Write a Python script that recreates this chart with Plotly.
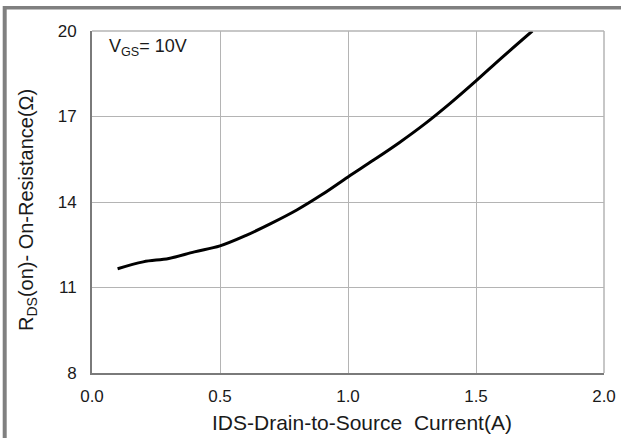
import plotly.graph_objects as go

current_a = [0.1, 0.2, 0.3, 0.4, 0.5, 0.6, 0.7, 0.8, 0.9, 1.0, 1.1, 1.2, 1.3, 1.4, 1.5, 1.6, 1.72]
rds_on = [11.66, 11.9, 12.02, 12.25, 12.46, 12.82, 13.25, 13.72, 14.27, 14.88, 15.47, 16.08, 16.74, 17.47, 18.25, 19.06, 20.0]
x_ticks = [0.0, 0.5, 1.0, 1.5, 2.0]
y_ticks = [8, 11, 14, 17, 20]

W, H = 621, 438
L, R, T, B = 92, 17, 31, 65
pw, ph = W - L - R, H - T - B

def px(xp):
    return (xp - L) / pw

def py(yp):
    return (H - B - yp) / ph

fig = go.Figure()
fig.add_trace(go.Scatter(
    x=current_a, y=rds_on, mode="lines",
    line=dict(color="black", width=3, shape="spline", smoothing=1.0),
    showlegend=False, hoverinfo="skip"))

font = "Liberation Sans, Arial, sans-serif"
fig.update_layout(
    width=W, height=H,
    margin=dict(l=L, r=R, t=T, b=B, autoexpand=False),
    paper_bgcolor="white", plot_bgcolor="white",
    font=dict(family=font, size=17, color="#1a1a1a"),
    xaxis=dict(range=[0, 2.0], tickvals=x_ticks, ticktext=[f"{v:.1f}" for v in x_ticks],
               showgrid=True, gridcolor="#b4b4b4", gridwidth=1,
               showline=True, linecolor="#7a7a7a", linewidth=2,
               zeroline=False, ticks="", ticklabelstandoff=7, automargin=False),
    yaxis=dict(range=[8, 20], tickvals=y_ticks,
               showgrid=True, gridcolor="#b4b4b4", gridwidth=1,
               showline=True, linecolor="#7a7a7a", linewidth=2,
               zeroline=False, ticks="", ticklabelstandoff=10, automargin=False),
    shapes=[
        # light plot border (top and right)
        dict(type="line", xref="paper", yref="paper", x0=0, x1=1, y0=1, y1=1,
             line=dict(color="#b4b4b4", width=1.5)),
        dict(type="line", xref="paper", yref="paper", x0=1, x1=1, y0=0, y1=1,
             line=dict(color="#b4b4b4", width=1.5)),
        # outer gray frame (top and left)
        dict(type="line", xref="paper", yref="paper", x0=px(3), x1=px(W + 5), y0=py(7.7), y1=py(7.7),
             line=dict(color="#808080", width=3.5)),
        dict(type="line", xref="paper", yref="paper", x0=px(4.7), x1=px(4.7), y0=py(6), y1=py(H + 5),
             line=dict(color="#808080", width=4)),
    ],
    annotations=[
        dict(xref="paper", yref="paper", x=px(107), y=py(48), xanchor="left", yanchor="middle",
             text="V<sub>GS</sub>= 10V", showarrow=False, font=dict(size=18, color="#1a1a1a")),
        dict(xref="paper", yref="paper", x=px(362), y=py(422), xanchor="center", yanchor="middle",
             text="IDS-Drain-to-Source  Current(A)", showarrow=False,
             font=dict(size=21, color="#1a1a1a")),
        dict(xref="paper", yref="paper", x=px(27), y=py(210), xanchor="center", yanchor="middle",
             text="R<sub>DS</sub>(on)- On-Resistance(Ω)", showarrow=False, textangle=-90,
             font=dict(size=20, color="#1a1a1a")),
    ],
)

fig.write_html("out.html", config={"displayModeBar": False},
               post_script="document.body.style.margin='0px';document.body.style.overflow='hidden';")
